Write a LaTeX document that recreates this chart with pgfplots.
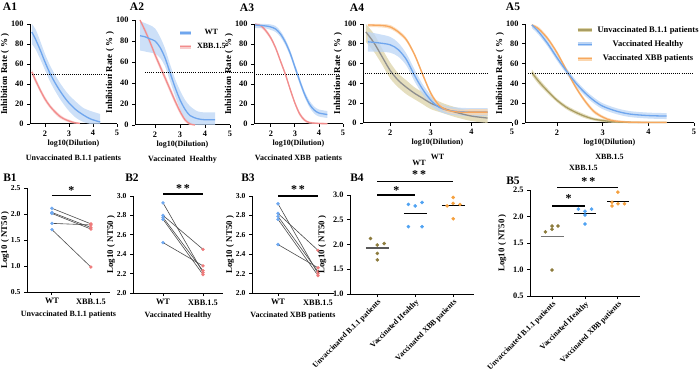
\documentclass[border=0pt]{standalone}
\usepackage{fontspec}
\setmainfont{Liberation Serif}
\usepackage{pgfplots}
\usepackage{pgfplotstable}
\pgfplotsset{compat=1.18}
\usepgfplotslibrary{fillbetween}

\definecolor{wtblue}{HTML}{6FA6EE}
\definecolor{wtband}{HTML}{BCD5F5}
\definecolor{xbbred}{HTML}{F28C8C}
\definecolor{xbbband}{HTML}{F8CDCD}
\definecolor{xorange}{HTML}{F7A75E}
\definecolor{xoband}{HTML}{FBD6AE}
\definecolor{unvline}{HTML}{A99D62}
\definecolor{unvband}{HTML}{DCD3A8}
\definecolor{curvegray}{HTML}{8E8E8E}
\definecolor{dotolive}{HTML}{8C7B3C}
\definecolor{dotblue}{HTML}{4FA2F2}
\definecolor{dotorange}{HTML}{F5A03E}
\definecolor{pairblue}{HTML}{6EA8F0}
\definecolor{pairred}{HTML}{EE7B7B}

% Fitted neutralisation curves: x = log10(dilution), m = inhibition (%), lo/hi = confidence band
\pgfplotstableread{
x m lo hi
1.45 92 80 100
1.6 85 75 95
1.8 74 65 83
2.0 62 54 70
2.2 51 43 59
2.4 42 34 50
2.6 34 26 42
2.8 27 19 35
3.0 21 13 29
3.3 14 6 22
3.6 9 2 16
3.9 5 0 13
4.3 2 0 10
}\AoneWT
\pgfplotstableread{
x m lo hi
1.45 52 49 55
1.6 44 41 47
1.8 34 31.5 36.5
2.0 25 22.5 27.5
2.2 18 16 20
2.4 12.5 10.5 14.5
2.6 8 6 10
2.8 5 3.5 6.5
3.0 3 1.5 4.5
3.2 1.5 0.5 2.5
3.45 0.5 0 1.5
}\AoneXBB
\pgfplotstableread{
x m lo hi
1.4 85 71 99
1.6 84 70 97
1.8 82 69 95
2.0 80 68 92
2.2 74 64 84
2.4 64 56 73
2.6 50 42 58
2.8 36 28 44
3.0 24 15 33
3.2 15 6 24
3.4 9 1 18
3.7 6 0 13
4.0 5 0 12
4.4 5 0 12
}\AtwoWT
\pgfplotstableread{
x m lo hi
1.4 100 97 100
1.6 90 87 93
1.8 79 76 82
2.0 67 64 70
2.2 56 53 59
2.4 45 42 48
2.6 34 31 37
2.8 23 20 26
3.0 13 10.5 15.5
3.2 5 3 7
3.4 1 0 2.5
3.6 0 0 1
}\AtwoXBB
\pgfplotstableread{
x m lo hi
1.35 99 96 100
1.8 98 95.5 100
2.0 97 94 99.5
2.2 95 92 98
2.4 90 87 93
2.6 82 79 85
2.8 71 68 74
3.0 57 54 60
3.2 43 40 46
3.4 30 27 33
3.6 20 17 23.5
3.8 14 10.5 17.5
4.0 11 7.5 14.5
4.35 9.5 6 13
}\AthreeWT
\pgfplotstableread{
x m lo hi
1.35 100 98 100
1.6 98 96 100
1.8 93 91 95
2.0 86 84 88
2.2 76 74 78
2.4 63 61 65
2.6 50 48 52
2.8 35 33 37
3.0 21 19 23
3.2 10 8 12
3.4 4 2.5 5.5
3.6 1.5 0.5 2.5
4.0 0.5 0 1.5
4.35 0.3 0 1.2
}\AthreeXBB
\pgfplotstableread{
x m lo hi
1.4 92 82 100
1.6 81 72 90
1.8 67 59 75
2.0 53 45 61
2.2 43 36 50
2.4 36 29 43
2.6 30 24 36
2.8 25 19 31
3.0 20 14 26
3.3 15 10 20
3.6 11 6 16
4.0 7 2 12
4.4 5 0 10
}\AfourUnv
\pgfplotstableread{
x m lo hi
1.45 82 72 92
1.7 81 72 90
2.0 79 71 87
2.2 74 67 81
2.4 64 58 70
2.6 48 42 54
2.8 34 29 39
3.0 23 18 28
3.2 16 12 20
3.4 13 9 17
3.7 11.5 7.5 15.5
4.0 11 7 15
4.4 11 7 15
}\AfourHealthy
\pgfplotstableread{
x m lo hi
1.45 99 97 100
1.8 98.5 96.5 100
2.0 97 95 99
2.2 92 90 94
2.4 84 82 86
2.6 69 67 71
2.8 49 47 51
3.0 30 28 32
3.2 18 16 20
3.4 13 10.5 15.5
3.7 11 8.5 13.5
4.0 11 8 14
4.4 11 8 14
}\AfourXBB
\pgfplotstableread{
x m lo hi
1.45 51 48 54
1.6 42 39 45
1.8 32 29.5 34.5
2.0 23 21 25
2.2 16 14 18
2.4 11 9 13
2.6 7 5 9
2.8 4 2.5 5.5
3.0 2.5 1 4
3.3 1 0 2.5
3.8 0.5 0 1.5
4.4 0.5 0 1.5
}\AfiveUnv
\pgfplotstableread{
x m lo hi
1.45 99 96 100
1.6 92 89 95
1.8 80 77 83
2.0 66 63 69
2.2 53 50 56
2.4 41 38 44
2.6 31 28 34
2.8 23 20 26
3.0 17 14 20
3.3 12 9 15
3.6 9 6 12
4.0 7.5 4.5 10.5
4.4 7 4 10
}\AfiveHealthy
\pgfplotstableread{
x m lo hi
1.45 99 97 100
1.6 95 93 97
1.8 85 83 87
2.0 71 69 73
2.2 54 52 56
2.4 37 35 39
2.6 23 21 25
2.8 12 10 14
3.0 6 4.5 7.5
3.2 2.5 1 4
3.5 1 0 2
4.0 0.5 0 1.5
4.4 0.5 0 1.5
}\AfiveXBB

% curve with its shaded band: #1 table, #2 line colour, #3 band colour, #4 unique id
\newcommand{\bandcurve}[4]{%
  \addplot[draw=none, smooth, name path=#4u, forget plot] table[x=x,y=hi]{#1};
  \addplot[draw=none, smooth, name path=#4l, forget plot] table[x=x,y=lo]{#1};
  \addplot[fill=#3, fill opacity=0.75, draw=none, forget plot] fill between[of=#4u and #4l];
  \addplot[#2, line width=1.3pt, smooth, forget plot] table[x=x,y=m]{#1};
}

\newcommand{\lf}{\bfseries\fontsize{8}{9}\selectfont}

\tikzset{
  sig/.style={line width=1.2pt},
  star/.style={font=\bfseries\fontsize{12}{12}\selectfont},
}

\pgfplotsset{
  panel/.style={
    scale only axis, clip=false, anchor=south west,
    axis x line=bottom, axis y line=left,
    axis line style={-, line width=1pt, black},
    every outer x axis line/.append style={-},
    every outer y axis line/.append style={-},
    tick align=outside, major tick length=3pt,
    tick style={line width=0.9pt, black},
    tick label style={font=\bfseries\fontsize{8.3}{9}\selectfont},
    /pgf/number format/assume math mode=true,
    label style={font=\lf},
  },
  inhib/.style={panel, ymin=0, ymax=100, xmax=5,
    ytick={0,20,40,60,80,100}, xtick={2,3,4,5},
    ylabel={Inhibition Rate\;(\;\%\;)},
    ylabel style={font=\bfseries\fontsize{9}{10}\selectfont},
    ylabel shift=-5pt,
    xlabel style={align=center, font=\bfseries\fontsize{8}{15}\selectfont, yshift=3pt},
  },
  pair/.style={panel, xtick={0,1}, xticklabels={WT, XBB.1.5},
    ylabel={Log10\;(\;NT50\;)},
    ylabel style={font=\bfseries\fontsize{8.8}{10}\selectfont},
    ylabel shift=-5pt,
    yticklabel style={font=\bfseries\fontsize{7.6}{9}\selectfont,
      /pgf/number format/.cd, fixed, fixed zerofill, precision=1},
  },
  group/.style={panel, xtick={0,1,2},
    xticklabels={Unvaccinated B.1.1 patients, Vaccinated Healthy, Vaccinated XBB patients},
    xticklabel style={rotate=45, anchor=north east, inner sep=1pt,
      font=\bfseries\fontsize{7.8}{9}\selectfont},
    ylabel={Log10\;(\;NT50\;)},
    ylabel style={font=\bfseries\fontsize{8.8}{10}\selectfont},
    yticklabel style={/pgf/number format/.cd, fixed, fixed zerofill, precision=1},
  },
  halfline/.style={black, dash pattern=on 0.8pt off 1.3pt, line width=0.7pt, forget plot},
  pairline/.style={black!70, line width=0.6pt, forget plot},
}

\begin{document}
\begin{tikzpicture}

% ---------- A1 ----------
\begin{axis}[inhib, at={(30pt,-124pt)}, width=87pt, height=100pt, xmin=1.375,
  xlabel={log10(Dilution)\\Unvaccinated B.1.1 patients}]
  \bandcurve{\AoneWT}{wtblue}{wtband}{aw}
  \bandcurve{\AoneXBB}{xbbred}{xbbband}{ax}
  \addplot[halfline] coordinates {(1.375,50) (4.7,50)};
\end{axis}

% ---------- A2 ----------
\begin{axis}[inhib, at={(135pt,-125pt)}, width=95pt, height=105pt, xmin=1.2,
  xlabel={log10(Dilution)\\Vaccinated\ \ Healthy},
  legend style={draw=none, fill=none, at={(0.42,0.93)}, anchor=north west,
    font=\lf, row sep=7pt, column sep=4pt, nodes={inner sep=0pt}}]
  \bandcurve{\AtwoXBB}{xbbred}{xbbband}{bx}
  \bandcurve{\AtwoWT}{wtblue}{wtband}{bw}
  \addplot[halfline] coordinates {(1.6,50) (5.95,50)};
  \addlegendimage{legend image code/.code={\draw[wtband, line width=4pt] (0pt,0pt)--(11pt,0pt); \draw[wtblue, line width=1.3pt] (0pt,0pt)--(11pt,0pt);}}
  \addlegendentry{WT}
  \addlegendimage{legend image code/.code={\draw[xbbband, line width=4pt] (0pt,0pt)--(11pt,0pt); \draw[xbbred, line width=1.3pt] (0pt,0pt)--(11pt,0pt);}}
  \addlegendentry{XBB.1.5}
\end{axis}

% ---------- A3 ----------
\begin{axis}[inhib, at={(254pt,-124pt)}, width=89pt, height=100pt, xmin=1.3,
  xlabel={log10(Dilution)\\Vaccinated XBB\ \ patients}]
  \bandcurve{\AthreeXBB}{xbbred}{xbbband}{cx}
  \bandcurve{\AthreeWT}{wtblue}{wtband}{cw}
  \addplot[halfline] coordinates {(1.3,50) (4.8,50)};
\end{axis}

% ---------- A4 ----------
\begin{axis}[inhib, at={(363pt,-123pt)}, width=149pt, height=99pt, xmin=1.33,
  xlabel={log10(Dilution)\\WT}]
  \bandcurve{\AfourUnv}{curvegray}{unvband}{du}
  \bandcurve{\AfourHealthy}{wtblue}{wtband}{dh}
  \bandcurve{\AfourXBB}{xorange}{xoband}{dx}
  \addplot[halfline] coordinates {(1.33,50) (4.4,50)};
\end{axis}

% ---------- A5 ----------
\begin{axis}[inhib, at={(525pt,-123pt)}, width=169pt, height=99pt, xmin=1.3,
  xlabel={log10(Dilution)\\XBB.1.5},
  legend style={draw=none, fill=none, at={(0.28,1.0)}, anchor=north west,
    font=\bfseries\fontsize{8.5}{9}\selectfont, row sep=7pt, column sep=4pt, nodes={inner sep=0pt}}]
  \bandcurve{\AfiveUnv}{unvline}{unvband}{eu}
  \bandcurve{\AfiveXBB}{xorange}{xoband}{ex}
  \bandcurve{\AfiveHealthy}{wtblue}{wtband}{eh}
  \addplot[halfline] coordinates {(1.37,50) (5,50)};
  \addlegendimage{legend image code/.code={\draw[unvband, line width=4pt] (0pt,0pt)--(14pt,0pt); \draw[unvline, line width=1.3pt] (0pt,0pt)--(14pt,0pt);}}
  \addlegendentry{Unvaccinated B.1.1 patients}
  \addlegendimage{legend image code/.code={\draw[wtband, line width=4pt] (0pt,0pt)--(14pt,0pt); \draw[wtblue, line width=1.3pt] (0pt,0pt)--(14pt,0pt);}}
  \addlegendentry{Vaccinated Healthy}
  \addlegendimage{legend image code/.code={\draw[xoband, line width=4pt] (0pt,0pt)--(14pt,0pt); \draw[xorange, line width=1.3pt] (0pt,0pt)--(14pt,0pt);}}
  \addlegendentry{Vaccinated XBB patients}
\end{axis}

% ---------- B1 ----------
\begin{axis}[pair, at={(27pt,-292pt)}, width=83pt, height=104pt,
  xmin=-0.64, xmax=1.49, ymin=0.5, ymax=2.5, ytick={0.5,1.0,1.5,2.0,2.5},
  xlabel={Unvaccinated B.1.1 patients}]
  \addplot[pairline] coordinates {(0,2.11) (1,1.81)};
  \addplot[pairline] coordinates {(0,2.03) (1,1.74)};
  \addplot[pairline] coordinates {(0,2.01) (1,1.71)};
  \addplot[pairline] coordinates {(0,1.82) (1,1.79)};
  \addplot[pairline] coordinates {(0,1.70) (1,0.98)};
  \addplot[only marks, mark=*, mark size=1.5pt, pairblue] coordinates {(0,2.11) (0,2.03) (0,2.01) (0,1.82) (0,1.70)};
  \addplot[only marks, mark=*, mark size=1.5pt, pairred] coordinates {(1,1.81) (1,1.74) (1,1.71) (1,1.79) (1,0.98)};
  \draw[sig] (axis cs:0,2.35) -- (axis cs:1,2.35);
  \node[star] at (axis cs:0.5,2.46) {*};
\end{axis}

% ---------- B2 ----------
\begin{axis}[pair, at={(133pt,-293pt)}, width=90pt, height=97pt,
  xmin=-0.75, xmax=1.5, ymin=2, ymax=3, ytick={2.0,2.2,2.4,2.6,2.8,3.0},
  xlabel={Vaccinated Healthy}]
  \addplot[pairline] coordinates {(0,2.93) (1,2.21)};
  \addplot[pairline] coordinates {(0,2.80) (1,2.45)};
  \addplot[pairline] coordinates {(0,2.78) (1,2.23)};
  \addplot[pairline] coordinates {(0,2.76) (1,2.19)};
  \addplot[pairline] coordinates {(0,2.52) (1,2.28)};
  \addplot[only marks, mark=*, mark size=1.5pt, pairblue] coordinates {(0,2.93) (0,2.80) (0,2.78) (0,2.76) (0,2.52)};
  \addplot[only marks, mark=*, mark size=1.5pt, pairred] coordinates {(1,2.21) (1,2.45) (1,2.23) (1,2.19) (1,2.28)};
  \draw[sig] (axis cs:0,3.02) -- (axis cs:1,3.02);
  \node[star] at (axis cs:0.5,3.08) {*\,*};
\end{axis}

% ---------- B3 ----------
\begin{axis}[pair, at={(252pt,-293pt)}, width=82pt, height=97pt,
  xmin=-0.65, xmax=1.4, ymin=2, ymax=3, ytick={2.0,2.2,2.4,2.6,2.8,3.0},
  xlabel={Vaccinated XBB patients}]
  \addplot[pairline] coordinates {(0,2.92) (1,2.20)};
  \addplot[pairline] coordinates {(0,2.82) (1,2.44)};
  \addplot[pairline] coordinates {(0,2.79) (1,2.22)};
  \addplot[pairline] coordinates {(0,2.76) (1,2.18)};
  \addplot[pairline] coordinates {(0,2.50) (1,2.26)};
  \addplot[only marks, mark=*, mark size=1.5pt, pairblue] coordinates {(0,2.92) (0,2.82) (0,2.79) (0,2.76) (0,2.50)};
  \addplot[only marks, mark=*, mark size=1.5pt, pairred] coordinates {(1,2.20) (1,2.44) (1,2.22) (1,2.18) (1,2.26)};
  \draw[sig] (axis cs:0,3.0) -- (axis cs:1,3.0);
  \node[star] at (axis cs:0.5,3.07) {*\,*};
\end{axis}

% ---------- B4 ----------
\begin{axis}[group, at={(350pt,-294pt)}, width=124pt, height=99pt,
  xmin=-0.72, xmax=2.55, ymin=1, ymax=3, ytick={1.0,1.5,2.0,2.5,3.0}]
  \addplot[only marks, mark=*, mark size=1.6pt, dotolive] coordinates {(-0.18,2.12) (0,1.99) (0.18,2.02) (0,1.82) (0,1.69)};
  \addplot[only marks, mark=*, mark size=1.6pt, dotblue] coordinates {(0.82,2.81) (1,2.78) (1.18,2.85) (0.82,2.36) (1.18,2.36)};
  \addplot[only marks, mark=*, mark size=1.6pt, dotorange] coordinates {(1.84,2.78) (2,2.83) (2.18,2.81) (2,2.95) (2,2.52)};
  \addplot[black!65, line width=1.1pt] coordinates {(-0.3,1.93) (0.3,1.93)};
  \addplot[black, line width=1.1pt] coordinates {(0.7,2.63) (1.3,2.63)};
  \addplot[black, line width=1.1pt] coordinates {(1.7,2.78) (2.3,2.78)};
  \draw[sig] (axis cs:0,3.0) -- (axis cs:1,3.0);
  \node[star] at (axis cs:0.5,3.1) {*};
  \draw[sig] (axis cs:0,3.28) -- (axis cs:2,3.28);
  \node[star] at (axis cs:1.1,3.42) {*\,*};
  \node[font=\lf] at (axis cs:1.1,3.64) {WT};
\end{axis}

% ---------- B5 ----------
\begin{axis}[group, at={(530pt,-296pt)}, width=110pt, height=106pt,
  xmin=-0.67, xmax=2.67, ymin=0.5, ymax=2.5, ytick={0.5,1.0,1.5,2.0,2.5}]
  \addplot[only marks, mark=*, mark size=1.6pt, dotolive] coordinates {(-0.2,1.71) (0,1.82) (0,1.76) (0.18,1.82) (0,0.99)};
  \addplot[only marks, mark=*, mark size=1.6pt, dotblue] coordinates {(0.8,2.14) (1,2.10) (1.2,2.14) (1,2.03) (1,1.86)};
  \addplot[only marks, mark=*, mark size=1.6pt, dotorange] coordinates {(1.82,2.27) (1.82,2.20) (2,2.46) (2,2.24) (2.2,2.24)};
  \addplot[black!55, line width=1.1pt] coordinates {(-0.35,1.62) (0.35,1.62)};
  \addplot[black, line width=1.1pt] coordinates {(0.67,2.05) (1.33,2.05)};
  \addplot[black, line width=1.1pt] coordinates {(1.67,2.28) (2.33,2.28)};
  \draw[sig] (axis cs:0,2.2) -- (axis cs:1,2.2);
  \node[star] at (axis cs:0.5,2.33) {*};
  \draw[sig] (axis cs:0.15,2.54) -- (axis cs:2,2.54);
  \node[star] at (axis cs:1.1,2.66) {*\,*};
  \node[font=\lf] at (axis cs:0.95,2.92) {XBB.1.5};
\end{axis}

% panel letters
\begin{scope}[every node/.style={font=\bfseries\fontsize{11.5}{12}\selectfont}]
  \node at (10pt,-7pt) {A1};
  \node at (137pt,-7pt) {A2};
  \node at (247pt,-8pt) {A3};
  \node at (357pt,-8pt) {A4};
  \node at (513pt,-7pt) {A5};
  \node at (10pt,-178pt) {B1};
  \node at (132pt,-178pt) {B2};
  \node at (248pt,-178pt) {B3};
  \node at (357pt,-178pt) {B4};
  \node at (513pt,-181pt) {B5};
\end{scope}

% page frame
\pgfresetboundingbox
\path[use as bounding box] (0pt,0pt) rectangle (700pt,-374pt);
\end{tikzpicture}
\end{document}
